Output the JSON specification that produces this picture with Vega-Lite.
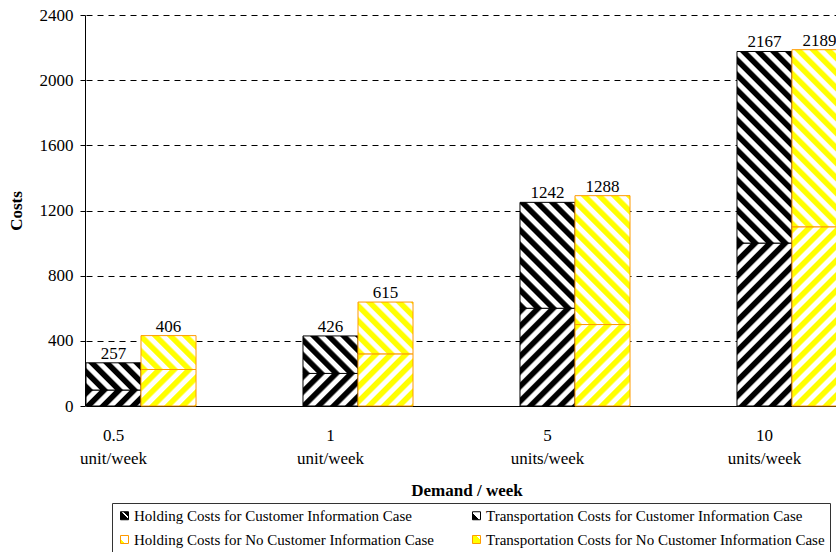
{
"$schema":"https://vega.github.io/schema/vega-lite/v6.json",
"width":751,"height":391,
"autosize":"none",
"padding":{"left":85,"top":15,"right":0,"bottom":146},
"background":"#ffffff",
"config":{
 "font":"Liberation Serif",
 "view":{"stroke":null},
 "axis":{"labelColor":"#000","titleColor":"#000","domainColor":"#000","tickColor":"#000","labelFontSize":17,"titleFontSize":17,"titleFontWeight":"bold","labelFont":"Liberation Serif","titleFont":"Liberation Serif"},
 "legend":{"orient":"none","legendX":27,"legendY":488,"columns":2,"columnPadding":35,"rowPadding":8,"symbolType":"square","symbolSize":64,"symbolStrokeWidth":1,"symbolOpacity":1,"labelFont":"Liberation Serif","labelFontSize":15,"labelColor":"#000","labelOffset":2,"labelLimit":400,"padding":5,"strokeColor":"#333","fillColor":"#fff"}
},
"datasets":{
 "bars":[
  {"demand":"0.5","case":"CI","component":"Holding","start":0,"end":98,"seg":"CI-H-0.5"},
  {"demand":"0.5","case":"CI","component":"Transportation","start":98,"end":265,"seg":"CI-T-0.5"},
  {"demand":"0.5","case":"NCI","component":"Holding","start":0,"end":224,"seg":"NCI-H-0.5"},
  {"demand":"0.5","case":"NCI","component":"Transportation","start":224,"end":432,"seg":"NCI-T-0.5"},
  {"demand":"1","case":"CI","component":"Holding","start":0,"end":200,"seg":"CI-H-1"},
  {"demand":"1","case":"CI","component":"Transportation","start":200,"end":430,"seg":"CI-T-1"},
  {"demand":"1","case":"NCI","component":"Holding","start":0,"end":320,"seg":"NCI-H-1"},
  {"demand":"1","case":"NCI","component":"Transportation","start":320,"end":638,"seg":"NCI-T-1"},
  {"demand":"5","case":"CI","component":"Holding","start":0,"end":600,"seg":"CI-H-5"},
  {"demand":"5","case":"CI","component":"Transportation","start":600,"end":1250,"seg":"CI-T-5"},
  {"demand":"5","case":"NCI","component":"Holding","start":0,"end":500,"seg":"NCI-H-5"},
  {"demand":"5","case":"NCI","component":"Transportation","start":500,"end":1291,"seg":"NCI-T-5"},
  {"demand":"10","case":"CI","component":"Holding","start":0,"end":1000,"seg":"CI-H-10"},
  {"demand":"10","case":"CI","component":"Transportation","start":1000,"end":2176,"seg":"CI-T-10"},
  {"demand":"10","case":"NCI","component":"Holding","start":0,"end":1100,"seg":"NCI-H-10"},
  {"demand":"10","case":"NCI","component":"Transportation","start":1100,"end":2187,"seg":"NCI-T-10"}
 ],
 "totals":[
  {"demand":"0.5","case":"CI","total":265,"label":"257"},
  {"demand":"0.5","case":"NCI","total":432,"label":"406"},
  {"demand":"1","case":"CI","total":430,"label":"426"},
  {"demand":"1","case":"NCI","total":638,"label":"615"},
  {"demand":"5","case":"CI","total":1250,"label":"1242"},
  {"demand":"5","case":"NCI","total":1291,"label":"1288"},
  {"demand":"10","case":"CI","total":2176,"label":"2167"},
  {"demand":"10","case":"NCI","total":2187,"label":"2189"}
 ],
 "legend":[
  {"series":"Holding Costs for Customer Information Case"},
  {"series":"Transportation Costs for Customer Information Case"},
  {"series":"Holding Costs for No Customer Information Case"},
  {"series":"Transportation Costs for No Customer Information Case"}
 ]
},
"layer":[
 {
  "data":{"name":"bars"},
  "mark":{"type":"bar","strokeWidth":1},
  "encoding":{
   "x":{"field":"demand","type":"nominal","sort":null,
    "scale":{"range":[1,762],"paddingInner":0.493,"paddingOuter":0},
    "axis":{"ticks":false,"grid":false,"labelAngle":0,"labelPadding":21,"labelOffset":-27.5,"labelBaseline":"top","labelLineHeight":23,"labelExpr":"[datum.label, (datum.label === '0.5' || datum.label === '1') ? 'unit/week' : 'units/week']","titlePadding":16},
    "title":"Demand / week"},
   "xOffset":{"field":"case","type":"nominal","sort":["CI","NCI"]},
   "y":{"field":"end","type":"quantitative","scale":{"domain":[0,2400],"nice":false},
    "axis":{"values":[0,400,800,1200,1600,2000,2400],"format":"d","grid":true,"gridColor":"#000","gridDash":[6,5],"gridWidth":1,"tickSize":5,"labelPadding":7,"titlePadding":14},
    "title":"Costs"},
   "y2":{"field":"start"},
   "stroke":{"condition":{"test":"datum.case === 'CI'","value":"#000"},"value":"#ff9900"},
   "fill":{"condition":[
    {"test":"datum.seg === 'CI-H-0.5'","value":{"gradient":"linear","x1":0,"y1":0,"x2":2.012,"y2":0.5843,"stops":[{"offset":0,"color":"#000"},{"offset":0.05,"color":"#000"},{"offset":0.0688,"color":"#fff"},{"offset":0.1125,"color":"#fff"},{"offset":0.125,"color":"#000"},{"offset":0.175,"color":"#000"},{"offset":0.1938,"color":"#fff"},{"offset":0.2375,"color":"#fff"},{"offset":0.25,"color":"#000"},{"offset":0.3,"color":"#000"},{"offset":0.3188,"color":"#fff"},{"offset":0.3625,"color":"#fff"},{"offset":0.375,"color":"#000"},{"offset":0.425,"color":"#000"},{"offset":0.4438,"color":"#fff"},{"offset":0.4875,"color":"#fff"},{"offset":0.5,"color":"#000"},{"offset":0.55,"color":"#000"},{"offset":0.5688,"color":"#fff"},{"offset":0.6125,"color":"#fff"},{"offset":0.625,"color":"#000"},{"offset":0.675,"color":"#000"},{"offset":0.6938,"color":"#fff"},{"offset":0.7375,"color":"#fff"},{"offset":0.75,"color":"#000"},{"offset":0.8,"color":"#000"},{"offset":0.8188,"color":"#fff"},{"offset":0.8625,"color":"#fff"},{"offset":0.875,"color":"#000"},{"offset":0.925,"color":"#000"},{"offset":0.9438,"color":"#fff"},{"offset":0.9875,"color":"#fff"}]}},
    {"test":"datum.seg === 'CI-H-1'","value":{"gradient":"linear","x1":0,"y1":0,"x2":1.615,"y2":0.9567,"stops":[{"offset":0,"color":"#000"},{"offset":0.05,"color":"#000"},{"offset":0.0688,"color":"#fff"},{"offset":0.1125,"color":"#fff"},{"offset":0.125,"color":"#000"},{"offset":0.175,"color":"#000"},{"offset":0.1938,"color":"#fff"},{"offset":0.2375,"color":"#fff"},{"offset":0.25,"color":"#000"},{"offset":0.3,"color":"#000"},{"offset":0.3188,"color":"#fff"},{"offset":0.3625,"color":"#fff"},{"offset":0.375,"color":"#000"},{"offset":0.425,"color":"#000"},{"offset":0.4438,"color":"#fff"},{"offset":0.4875,"color":"#fff"},{"offset":0.5,"color":"#000"},{"offset":0.55,"color":"#000"},{"offset":0.5688,"color":"#fff"},{"offset":0.6125,"color":"#fff"},{"offset":0.625,"color":"#000"},{"offset":0.675,"color":"#000"},{"offset":0.6938,"color":"#fff"},{"offset":0.7375,"color":"#fff"},{"offset":0.75,"color":"#000"},{"offset":0.8,"color":"#000"},{"offset":0.8188,"color":"#fff"},{"offset":0.8625,"color":"#fff"},{"offset":0.875,"color":"#000"},{"offset":0.925,"color":"#000"},{"offset":0.9438,"color":"#fff"},{"offset":0.9875,"color":"#fff"}]}},
    {"test":"datum.seg === 'CI-H-5'","value":{"gradient":"linear","x1":0,"y1":0,"x2":0.8525,"y2":1.5151,"stops":[{"offset":0,"color":"#000"},{"offset":0.0308,"color":"#000"},{"offset":0.0423,"color":"#fff"},{"offset":0.0692,"color":"#fff"},{"offset":0.0769,"color":"#000"},{"offset":0.1077,"color":"#000"},{"offset":0.1192,"color":"#fff"},{"offset":0.1462,"color":"#fff"},{"offset":0.1538,"color":"#000"},{"offset":0.1846,"color":"#000"},{"offset":0.1962,"color":"#fff"},{"offset":0.2231,"color":"#fff"},{"offset":0.2308,"color":"#000"},{"offset":0.2615,"color":"#000"},{"offset":0.2731,"color":"#fff"},{"offset":0.3,"color":"#fff"},{"offset":0.3077,"color":"#000"},{"offset":0.3385,"color":"#000"},{"offset":0.35,"color":"#fff"},{"offset":0.3769,"color":"#fff"},{"offset":0.3846,"color":"#000"},{"offset":0.4154,"color":"#000"},{"offset":0.4269,"color":"#fff"},{"offset":0.4538,"color":"#fff"},{"offset":0.4615,"color":"#000"},{"offset":0.4923,"color":"#000"},{"offset":0.5038,"color":"#fff"},{"offset":0.5308,"color":"#fff"},{"offset":0.5385,"color":"#000"},{"offset":0.5692,"color":"#000"},{"offset":0.5808,"color":"#fff"},{"offset":0.6077,"color":"#fff"},{"offset":0.6154,"color":"#000"},{"offset":0.6462,"color":"#000"},{"offset":0.6577,"color":"#fff"},{"offset":0.6846,"color":"#fff"},{"offset":0.6923,"color":"#000"},{"offset":0.7231,"color":"#000"},{"offset":0.7346,"color":"#fff"},{"offset":0.7615,"color":"#fff"},{"offset":0.7692,"color":"#000"},{"offset":0.8,"color":"#000"},{"offset":0.8115,"color":"#fff"},{"offset":0.8385,"color":"#fff"},{"offset":0.8462,"color":"#000"},{"offset":0.8769,"color":"#000"},{"offset":0.8885,"color":"#fff"},{"offset":0.9154,"color":"#fff"},{"offset":0.9231,"color":"#000"},{"offset":0.9538,"color":"#000"},{"offset":0.9654,"color":"#fff"},{"offset":0.9923,"color":"#fff"}]}},
    {"test":"datum.seg === 'CI-H-10'","value":{"gradient":"linear","x1":0,"y1":0,"x2":0.4743,"y2":1.4051,"stops":[{"offset":0,"color":"#000"},{"offset":0.0235,"color":"#000"},{"offset":0.0324,"color":"#fff"},{"offset":0.0529,"color":"#fff"},{"offset":0.0588,"color":"#000"},{"offset":0.0824,"color":"#000"},{"offset":0.0912,"color":"#fff"},{"offset":0.1118,"color":"#fff"},{"offset":0.1176,"color":"#000"},{"offset":0.1412,"color":"#000"},{"offset":0.15,"color":"#fff"},{"offset":0.1706,"color":"#fff"},{"offset":0.1765,"color":"#000"},{"offset":0.2,"color":"#000"},{"offset":0.2088,"color":"#fff"},{"offset":0.2294,"color":"#fff"},{"offset":0.2353,"color":"#000"},{"offset":0.2588,"color":"#000"},{"offset":0.2676,"color":"#fff"},{"offset":0.2882,"color":"#fff"},{"offset":0.2941,"color":"#000"},{"offset":0.3176,"color":"#000"},{"offset":0.3265,"color":"#fff"},{"offset":0.3471,"color":"#fff"},{"offset":0.3529,"color":"#000"},{"offset":0.3765,"color":"#000"},{"offset":0.3853,"color":"#fff"},{"offset":0.4059,"color":"#fff"},{"offset":0.4118,"color":"#000"},{"offset":0.4353,"color":"#000"},{"offset":0.4441,"color":"#fff"},{"offset":0.4647,"color":"#fff"},{"offset":0.4706,"color":"#000"},{"offset":0.4941,"color":"#000"},{"offset":0.5029,"color":"#fff"},{"offset":0.5235,"color":"#fff"},{"offset":0.5294,"color":"#000"},{"offset":0.5529,"color":"#000"},{"offset":0.5618,"color":"#fff"},{"offset":0.5824,"color":"#fff"},{"offset":0.5882,"color":"#000"},{"offset":0.6118,"color":"#000"},{"offset":0.6206,"color":"#fff"},{"offset":0.6412,"color":"#fff"},{"offset":0.6471,"color":"#000"},{"offset":0.6706,"color":"#000"},{"offset":0.6794,"color":"#fff"},{"offset":0.7,"color":"#fff"},{"offset":0.7059,"color":"#000"},{"offset":0.7294,"color":"#000"},{"offset":0.7382,"color":"#fff"},{"offset":0.7588,"color":"#fff"},{"offset":0.7647,"color":"#000"},{"offset":0.7882,"color":"#000"},{"offset":0.7971,"color":"#fff"},{"offset":0.8176,"color":"#fff"},{"offset":0.8235,"color":"#000"},{"offset":0.8471,"color":"#000"},{"offset":0.8559,"color":"#fff"},{"offset":0.8765,"color":"#fff"},{"offset":0.8824,"color":"#000"},{"offset":0.9059,"color":"#000"},{"offset":0.9147,"color":"#fff"},{"offset":0.9353,"color":"#fff"},{"offset":0.9412,"color":"#000"},{"offset":0.9647,"color":"#000"},{"offset":0.9735,"color":"#fff"},{"offset":0.9941,"color":"#fff"}]}},
    {"test":"datum.seg === 'CI-T-0.5'","value":{"gradient":"linear","x1":0,"y1":1,"x2":1.7527,"y2":0.1329,"stops":[{"offset":0,"color":"#000"},{"offset":0.05,"color":"#000"},{"offset":0.0688,"color":"#fff"},{"offset":0.1125,"color":"#fff"},{"offset":0.125,"color":"#000"},{"offset":0.175,"color":"#000"},{"offset":0.1938,"color":"#fff"},{"offset":0.2375,"color":"#fff"},{"offset":0.25,"color":"#000"},{"offset":0.3,"color":"#000"},{"offset":0.3188,"color":"#fff"},{"offset":0.3625,"color":"#fff"},{"offset":0.375,"color":"#000"},{"offset":0.425,"color":"#000"},{"offset":0.4438,"color":"#fff"},{"offset":0.4875,"color":"#fff"},{"offset":0.5,"color":"#000"},{"offset":0.55,"color":"#000"},{"offset":0.5688,"color":"#fff"},{"offset":0.6125,"color":"#fff"},{"offset":0.625,"color":"#000"},{"offset":0.675,"color":"#000"},{"offset":0.6938,"color":"#fff"},{"offset":0.7375,"color":"#fff"},{"offset":0.75,"color":"#000"},{"offset":0.8,"color":"#000"},{"offset":0.8188,"color":"#fff"},{"offset":0.8625,"color":"#fff"},{"offset":0.875,"color":"#000"},{"offset":0.925,"color":"#000"},{"offset":0.9438,"color":"#fff"},{"offset":0.9875,"color":"#fff"}]}},
    {"test":"datum.seg === 'CI-T-1'","value":{"gradient":"linear","x1":0,"y1":1,"x2":1.4903,"y2":-0.0153,"stops":[{"offset":0,"color":"#000"},{"offset":0.05,"color":"#000"},{"offset":0.0688,"color":"#fff"},{"offset":0.1125,"color":"#fff"},{"offset":0.125,"color":"#000"},{"offset":0.175,"color":"#000"},{"offset":0.1938,"color":"#fff"},{"offset":0.2375,"color":"#fff"},{"offset":0.25,"color":"#000"},{"offset":0.3,"color":"#000"},{"offset":0.3188,"color":"#fff"},{"offset":0.3625,"color":"#fff"},{"offset":0.375,"color":"#000"},{"offset":0.425,"color":"#000"},{"offset":0.4438,"color":"#fff"},{"offset":0.4875,"color":"#fff"},{"offset":0.5,"color":"#000"},{"offset":0.55,"color":"#000"},{"offset":0.5688,"color":"#fff"},{"offset":0.6125,"color":"#fff"},{"offset":0.625,"color":"#000"},{"offset":0.675,"color":"#000"},{"offset":0.6938,"color":"#fff"},{"offset":0.7375,"color":"#fff"},{"offset":0.75,"color":"#000"},{"offset":0.8,"color":"#000"},{"offset":0.8188,"color":"#fff"},{"offset":0.8625,"color":"#fff"},{"offset":0.875,"color":"#000"},{"offset":0.925,"color":"#000"},{"offset":0.9438,"color":"#fff"},{"offset":0.9875,"color":"#fff"}]}},
    {"test":"datum.seg === 'CI-T-5'","value":{"gradient":"linear","x1":0,"y1":1,"x2":0.7532,"y2":-0.4502,"stops":[{"offset":0,"color":"#000"},{"offset":0.0308,"color":"#000"},{"offset":0.0423,"color":"#fff"},{"offset":0.0692,"color":"#fff"},{"offset":0.0769,"color":"#000"},{"offset":0.1077,"color":"#000"},{"offset":0.1192,"color":"#fff"},{"offset":0.1462,"color":"#fff"},{"offset":0.1538,"color":"#000"},{"offset":0.1846,"color":"#000"},{"offset":0.1962,"color":"#fff"},{"offset":0.2231,"color":"#fff"},{"offset":0.2308,"color":"#000"},{"offset":0.2615,"color":"#000"},{"offset":0.2731,"color":"#fff"},{"offset":0.3,"color":"#fff"},{"offset":0.3077,"color":"#000"},{"offset":0.3385,"color":"#000"},{"offset":0.35,"color":"#fff"},{"offset":0.3769,"color":"#fff"},{"offset":0.3846,"color":"#000"},{"offset":0.4154,"color":"#000"},{"offset":0.4269,"color":"#fff"},{"offset":0.4538,"color":"#fff"},{"offset":0.4615,"color":"#000"},{"offset":0.4923,"color":"#000"},{"offset":0.5038,"color":"#fff"},{"offset":0.5308,"color":"#fff"},{"offset":0.5385,"color":"#000"},{"offset":0.5692,"color":"#000"},{"offset":0.5808,"color":"#fff"},{"offset":0.6077,"color":"#fff"},{"offset":0.6154,"color":"#000"},{"offset":0.6462,"color":"#000"},{"offset":0.6577,"color":"#fff"},{"offset":0.6846,"color":"#fff"},{"offset":0.6923,"color":"#000"},{"offset":0.7231,"color":"#000"},{"offset":0.7346,"color":"#fff"},{"offset":0.7615,"color":"#fff"},{"offset":0.7692,"color":"#000"},{"offset":0.8,"color":"#000"},{"offset":0.8115,"color":"#fff"},{"offset":0.8385,"color":"#fff"},{"offset":0.8462,"color":"#000"},{"offset":0.8769,"color":"#000"},{"offset":0.8885,"color":"#fff"},{"offset":0.9154,"color":"#fff"},{"offset":0.9231,"color":"#000"},{"offset":0.9538,"color":"#000"},{"offset":0.9654,"color":"#fff"},{"offset":0.9923,"color":"#fff"}]}},
    {"test":"datum.seg === 'CI-T-10'","value":{"gradient":"linear","x1":0,"y1":1,"x2":0.353,"y2":-0.2296,"stops":[{"offset":0,"color":"#000"},{"offset":0.0235,"color":"#000"},{"offset":0.0324,"color":"#fff"},{"offset":0.0529,"color":"#fff"},{"offset":0.0588,"color":"#000"},{"offset":0.0824,"color":"#000"},{"offset":0.0912,"color":"#fff"},{"offset":0.1118,"color":"#fff"},{"offset":0.1176,"color":"#000"},{"offset":0.1412,"color":"#000"},{"offset":0.15,"color":"#fff"},{"offset":0.1706,"color":"#fff"},{"offset":0.1765,"color":"#000"},{"offset":0.2,"color":"#000"},{"offset":0.2088,"color":"#fff"},{"offset":0.2294,"color":"#fff"},{"offset":0.2353,"color":"#000"},{"offset":0.2588,"color":"#000"},{"offset":0.2676,"color":"#fff"},{"offset":0.2882,"color":"#fff"},{"offset":0.2941,"color":"#000"},{"offset":0.3176,"color":"#000"},{"offset":0.3265,"color":"#fff"},{"offset":0.3471,"color":"#fff"},{"offset":0.3529,"color":"#000"},{"offset":0.3765,"color":"#000"},{"offset":0.3853,"color":"#fff"},{"offset":0.4059,"color":"#fff"},{"offset":0.4118,"color":"#000"},{"offset":0.4353,"color":"#000"},{"offset":0.4441,"color":"#fff"},{"offset":0.4647,"color":"#fff"},{"offset":0.4706,"color":"#000"},{"offset":0.4941,"color":"#000"},{"offset":0.5029,"color":"#fff"},{"offset":0.5235,"color":"#fff"},{"offset":0.5294,"color":"#000"},{"offset":0.5529,"color":"#000"},{"offset":0.5618,"color":"#fff"},{"offset":0.5824,"color":"#fff"},{"offset":0.5882,"color":"#000"},{"offset":0.6118,"color":"#000"},{"offset":0.6206,"color":"#fff"},{"offset":0.6412,"color":"#fff"},{"offset":0.6471,"color":"#000"},{"offset":0.6706,"color":"#000"},{"offset":0.6794,"color":"#fff"},{"offset":0.7,"color":"#fff"},{"offset":0.7059,"color":"#000"},{"offset":0.7294,"color":"#000"},{"offset":0.7382,"color":"#fff"},{"offset":0.7588,"color":"#fff"},{"offset":0.7647,"color":"#000"},{"offset":0.7882,"color":"#000"},{"offset":0.7971,"color":"#fff"},{"offset":0.8176,"color":"#fff"},{"offset":0.8235,"color":"#000"},{"offset":0.8471,"color":"#000"},{"offset":0.8559,"color":"#fff"},{"offset":0.8765,"color":"#fff"},{"offset":0.8824,"color":"#000"},{"offset":0.9059,"color":"#000"},{"offset":0.9147,"color":"#fff"},{"offset":0.9353,"color":"#fff"},{"offset":0.9412,"color":"#000"},{"offset":0.9647,"color":"#000"},{"offset":0.9735,"color":"#fff"},{"offset":0.9941,"color":"#fff"}]}},
    {"test":"datum.seg === 'NCI-H-0.5'","value":{"gradient":"linear","x1":0,"y1":0,"x2":1.5149,"y2":1.0051,"stops":[{"offset":0,"color":"#ff0"},{"offset":0.05,"color":"#ff0"},{"offset":0.0688,"color":"#fff"},{"offset":0.1125,"color":"#fff"},{"offset":0.125,"color":"#ff0"},{"offset":0.175,"color":"#ff0"},{"offset":0.1938,"color":"#fff"},{"offset":0.2375,"color":"#fff"},{"offset":0.25,"color":"#ff0"},{"offset":0.3,"color":"#ff0"},{"offset":0.3188,"color":"#fff"},{"offset":0.3625,"color":"#fff"},{"offset":0.375,"color":"#ff0"},{"offset":0.425,"color":"#ff0"},{"offset":0.4438,"color":"#fff"},{"offset":0.4875,"color":"#fff"},{"offset":0.5,"color":"#ff0"},{"offset":0.55,"color":"#ff0"},{"offset":0.5688,"color":"#fff"},{"offset":0.6125,"color":"#fff"},{"offset":0.625,"color":"#ff0"},{"offset":0.675,"color":"#ff0"},{"offset":0.6938,"color":"#fff"},{"offset":0.7375,"color":"#fff"},{"offset":0.75,"color":"#ff0"},{"offset":0.8,"color":"#ff0"},{"offset":0.8188,"color":"#fff"},{"offset":0.8625,"color":"#fff"},{"offset":0.875,"color":"#ff0"},{"offset":0.925,"color":"#ff0"},{"offset":0.9438,"color":"#fff"},{"offset":0.9875,"color":"#fff"}]}},
    {"test":"datum.seg === 'NCI-H-1'","value":{"gradient":"linear","x1":0,"y1":0,"x2":1.1492,"y2":1.0893,"stops":[{"offset":0,"color":"#ff0"},{"offset":0.05,"color":"#ff0"},{"offset":0.0688,"color":"#fff"},{"offset":0.1125,"color":"#fff"},{"offset":0.125,"color":"#ff0"},{"offset":0.175,"color":"#ff0"},{"offset":0.1938,"color":"#fff"},{"offset":0.2375,"color":"#fff"},{"offset":0.25,"color":"#ff0"},{"offset":0.3,"color":"#ff0"},{"offset":0.3188,"color":"#fff"},{"offset":0.3625,"color":"#fff"},{"offset":0.375,"color":"#ff0"},{"offset":0.425,"color":"#ff0"},{"offset":0.4438,"color":"#fff"},{"offset":0.4875,"color":"#fff"},{"offset":0.5,"color":"#ff0"},{"offset":0.55,"color":"#ff0"},{"offset":0.5688,"color":"#fff"},{"offset":0.6125,"color":"#fff"},{"offset":0.625,"color":"#ff0"},{"offset":0.675,"color":"#ff0"},{"offset":0.6938,"color":"#fff"},{"offset":0.7375,"color":"#fff"},{"offset":0.75,"color":"#ff0"},{"offset":0.8,"color":"#ff0"},{"offset":0.8188,"color":"#fff"},{"offset":0.8625,"color":"#fff"},{"offset":0.875,"color":"#ff0"},{"offset":0.925,"color":"#ff0"},{"offset":0.9438,"color":"#fff"},{"offset":0.9875,"color":"#fff"}]}},
    {"test":"datum.seg === 'NCI-H-5'","value":{"gradient":"linear","x1":0,"y1":0,"x2":1.1101,"y2":1.6442,"stops":[{"offset":0,"color":"#ff0"},{"offset":0.0308,"color":"#ff0"},{"offset":0.0423,"color":"#fff"},{"offset":0.0692,"color":"#fff"},{"offset":0.0769,"color":"#ff0"},{"offset":0.1077,"color":"#ff0"},{"offset":0.1192,"color":"#fff"},{"offset":0.1462,"color":"#fff"},{"offset":0.1538,"color":"#ff0"},{"offset":0.1846,"color":"#ff0"},{"offset":0.1962,"color":"#fff"},{"offset":0.2231,"color":"#fff"},{"offset":0.2308,"color":"#ff0"},{"offset":0.2615,"color":"#ff0"},{"offset":0.2731,"color":"#fff"},{"offset":0.3,"color":"#fff"},{"offset":0.3077,"color":"#ff0"},{"offset":0.3385,"color":"#ff0"},{"offset":0.35,"color":"#fff"},{"offset":0.3769,"color":"#fff"},{"offset":0.3846,"color":"#ff0"},{"offset":0.4154,"color":"#ff0"},{"offset":0.4269,"color":"#fff"},{"offset":0.4538,"color":"#fff"},{"offset":0.4615,"color":"#ff0"},{"offset":0.4923,"color":"#ff0"},{"offset":0.5038,"color":"#fff"},{"offset":0.5308,"color":"#fff"},{"offset":0.5385,"color":"#ff0"},{"offset":0.5692,"color":"#ff0"},{"offset":0.5808,"color":"#fff"},{"offset":0.6077,"color":"#fff"},{"offset":0.6154,"color":"#ff0"},{"offset":0.6462,"color":"#ff0"},{"offset":0.6577,"color":"#fff"},{"offset":0.6846,"color":"#fff"},{"offset":0.6923,"color":"#ff0"},{"offset":0.7231,"color":"#ff0"},{"offset":0.7346,"color":"#fff"},{"offset":0.7615,"color":"#fff"},{"offset":0.7692,"color":"#ff0"},{"offset":0.8,"color":"#ff0"},{"offset":0.8115,"color":"#fff"},{"offset":0.8385,"color":"#fff"},{"offset":0.8462,"color":"#ff0"},{"offset":0.8769,"color":"#ff0"},{"offset":0.8885,"color":"#fff"},{"offset":0.9154,"color":"#fff"},{"offset":0.9231,"color":"#ff0"},{"offset":0.9538,"color":"#ff0"},{"offset":0.9654,"color":"#fff"},{"offset":0.9923,"color":"#fff"}]}},
    {"test":"datum.seg === 'NCI-H-10'","value":{"gradient":"linear","x1":0,"y1":0,"x2":0.3991,"y2":1.3004,"stops":[{"offset":0,"color":"#ff0"},{"offset":0.0235,"color":"#ff0"},{"offset":0.0324,"color":"#fff"},{"offset":0.0529,"color":"#fff"},{"offset":0.0588,"color":"#ff0"},{"offset":0.0824,"color":"#ff0"},{"offset":0.0912,"color":"#fff"},{"offset":0.1118,"color":"#fff"},{"offset":0.1176,"color":"#ff0"},{"offset":0.1412,"color":"#ff0"},{"offset":0.15,"color":"#fff"},{"offset":0.1706,"color":"#fff"},{"offset":0.1765,"color":"#ff0"},{"offset":0.2,"color":"#ff0"},{"offset":0.2088,"color":"#fff"},{"offset":0.2294,"color":"#fff"},{"offset":0.2353,"color":"#ff0"},{"offset":0.2588,"color":"#ff0"},{"offset":0.2676,"color":"#fff"},{"offset":0.2882,"color":"#fff"},{"offset":0.2941,"color":"#ff0"},{"offset":0.3176,"color":"#ff0"},{"offset":0.3265,"color":"#fff"},{"offset":0.3471,"color":"#fff"},{"offset":0.3529,"color":"#ff0"},{"offset":0.3765,"color":"#ff0"},{"offset":0.3853,"color":"#fff"},{"offset":0.4059,"color":"#fff"},{"offset":0.4118,"color":"#ff0"},{"offset":0.4353,"color":"#ff0"},{"offset":0.4441,"color":"#fff"},{"offset":0.4647,"color":"#fff"},{"offset":0.4706,"color":"#ff0"},{"offset":0.4941,"color":"#ff0"},{"offset":0.5029,"color":"#fff"},{"offset":0.5235,"color":"#fff"},{"offset":0.5294,"color":"#ff0"},{"offset":0.5529,"color":"#ff0"},{"offset":0.5618,"color":"#fff"},{"offset":0.5824,"color":"#fff"},{"offset":0.5882,"color":"#ff0"},{"offset":0.6118,"color":"#ff0"},{"offset":0.6206,"color":"#fff"},{"offset":0.6412,"color":"#fff"},{"offset":0.6471,"color":"#ff0"},{"offset":0.6706,"color":"#ff0"},{"offset":0.6794,"color":"#fff"},{"offset":0.7,"color":"#fff"},{"offset":0.7059,"color":"#ff0"},{"offset":0.7294,"color":"#ff0"},{"offset":0.7382,"color":"#fff"},{"offset":0.7588,"color":"#fff"},{"offset":0.7647,"color":"#ff0"},{"offset":0.7882,"color":"#ff0"},{"offset":0.7971,"color":"#fff"},{"offset":0.8176,"color":"#fff"},{"offset":0.8235,"color":"#ff0"},{"offset":0.8471,"color":"#ff0"},{"offset":0.8559,"color":"#fff"},{"offset":0.8765,"color":"#fff"},{"offset":0.8824,"color":"#ff0"},{"offset":0.9059,"color":"#ff0"},{"offset":0.9147,"color":"#fff"},{"offset":0.9353,"color":"#fff"},{"offset":0.9412,"color":"#ff0"},{"offset":0.9647,"color":"#ff0"},{"offset":0.9735,"color":"#fff"},{"offset":0.9941,"color":"#fff"}]}},
    {"test":"datum.seg === 'NCI-T-0.5'","value":{"gradient":"linear","x1":0,"y1":1,"x2":1.5813,"y2":0.0256,"stops":[{"offset":0,"color":"#ff0"},{"offset":0.05,"color":"#ff0"},{"offset":0.0688,"color":"#fff"},{"offset":0.1125,"color":"#fff"},{"offset":0.125,"color":"#ff0"},{"offset":0.175,"color":"#ff0"},{"offset":0.1938,"color":"#fff"},{"offset":0.2375,"color":"#fff"},{"offset":0.25,"color":"#ff0"},{"offset":0.3,"color":"#ff0"},{"offset":0.3188,"color":"#fff"},{"offset":0.3625,"color":"#fff"},{"offset":0.375,"color":"#ff0"},{"offset":0.425,"color":"#ff0"},{"offset":0.4438,"color":"#fff"},{"offset":0.4875,"color":"#fff"},{"offset":0.5,"color":"#ff0"},{"offset":0.55,"color":"#ff0"},{"offset":0.5688,"color":"#fff"},{"offset":0.6125,"color":"#fff"},{"offset":0.625,"color":"#ff0"},{"offset":0.675,"color":"#ff0"},{"offset":0.6938,"color":"#fff"},{"offset":0.7375,"color":"#fff"},{"offset":0.75,"color":"#ff0"},{"offset":0.8,"color":"#ff0"},{"offset":0.8188,"color":"#fff"},{"offset":0.8625,"color":"#fff"},{"offset":0.875,"color":"#ff0"},{"offset":0.925,"color":"#ff0"},{"offset":0.9438,"color":"#fff"},{"offset":0.9875,"color":"#fff"}]}},
    {"test":"datum.seg === 'NCI-T-1'","value":{"gradient":"linear","x1":0,"y1":1,"x2":1.156,"y2":-0.0889,"stops":[{"offset":0,"color":"#ff0"},{"offset":0.05,"color":"#ff0"},{"offset":0.0688,"color":"#fff"},{"offset":0.1125,"color":"#fff"},{"offset":0.125,"color":"#ff0"},{"offset":0.175,"color":"#ff0"},{"offset":0.1938,"color":"#fff"},{"offset":0.2375,"color":"#fff"},{"offset":0.25,"color":"#ff0"},{"offset":0.3,"color":"#ff0"},{"offset":0.3188,"color":"#fff"},{"offset":0.3625,"color":"#fff"},{"offset":0.375,"color":"#ff0"},{"offset":0.425,"color":"#ff0"},{"offset":0.4438,"color":"#fff"},{"offset":0.4875,"color":"#fff"},{"offset":0.5,"color":"#ff0"},{"offset":0.55,"color":"#ff0"},{"offset":0.5688,"color":"#fff"},{"offset":0.6125,"color":"#fff"},{"offset":0.625,"color":"#ff0"},{"offset":0.675,"color":"#ff0"},{"offset":0.6938,"color":"#fff"},{"offset":0.7375,"color":"#fff"},{"offset":0.75,"color":"#ff0"},{"offset":0.8,"color":"#ff0"},{"offset":0.8188,"color":"#fff"},{"offset":0.8625,"color":"#fff"},{"offset":0.875,"color":"#ff0"},{"offset":0.925,"color":"#ff0"},{"offset":0.9438,"color":"#fff"},{"offset":0.9875,"color":"#fff"}]}},
    {"test":"datum.seg === 'NCI-T-5'","value":{"gradient":"linear","x1":0,"y1":1,"x2":0.5463,"y2":-0.28,"stops":[{"offset":0,"color":"#ff0"},{"offset":0.0308,"color":"#ff0"},{"offset":0.0423,"color":"#fff"},{"offset":0.0692,"color":"#fff"},{"offset":0.0769,"color":"#ff0"},{"offset":0.1077,"color":"#ff0"},{"offset":0.1192,"color":"#fff"},{"offset":0.1462,"color":"#fff"},{"offset":0.1538,"color":"#ff0"},{"offset":0.1846,"color":"#ff0"},{"offset":0.1962,"color":"#fff"},{"offset":0.2231,"color":"#fff"},{"offset":0.2308,"color":"#ff0"},{"offset":0.2615,"color":"#ff0"},{"offset":0.2731,"color":"#fff"},{"offset":0.3,"color":"#fff"},{"offset":0.3077,"color":"#ff0"},{"offset":0.3385,"color":"#ff0"},{"offset":0.35,"color":"#fff"},{"offset":0.3769,"color":"#fff"},{"offset":0.3846,"color":"#ff0"},{"offset":0.4154,"color":"#ff0"},{"offset":0.4269,"color":"#fff"},{"offset":0.4538,"color":"#fff"},{"offset":0.4615,"color":"#ff0"},{"offset":0.4923,"color":"#ff0"},{"offset":0.5038,"color":"#fff"},{"offset":0.5308,"color":"#fff"},{"offset":0.5385,"color":"#ff0"},{"offset":0.5692,"color":"#ff0"},{"offset":0.5808,"color":"#fff"},{"offset":0.6077,"color":"#fff"},{"offset":0.6154,"color":"#ff0"},{"offset":0.6462,"color":"#ff0"},{"offset":0.6577,"color":"#fff"},{"offset":0.6846,"color":"#fff"},{"offset":0.6923,"color":"#ff0"},{"offset":0.7231,"color":"#ff0"},{"offset":0.7346,"color":"#fff"},{"offset":0.7615,"color":"#fff"},{"offset":0.7692,"color":"#ff0"},{"offset":0.8,"color":"#ff0"},{"offset":0.8115,"color":"#fff"},{"offset":0.8385,"color":"#fff"},{"offset":0.8462,"color":"#ff0"},{"offset":0.8769,"color":"#ff0"},{"offset":0.8885,"color":"#fff"},{"offset":0.9154,"color":"#fff"},{"offset":0.9231,"color":"#ff0"},{"offset":0.9538,"color":"#ff0"},{"offset":0.9654,"color":"#fff"},{"offset":0.9923,"color":"#fff"}]}},
    {"test":"datum.seg === 'NCI-T-10'","value":{"gradient":"linear","x1":0,"y1":1,"x2":0.4079,"y2":-0.3133,"stops":[{"offset":0,"color":"#ff0"},{"offset":0.0235,"color":"#ff0"},{"offset":0.0324,"color":"#fff"},{"offset":0.0529,"color":"#fff"},{"offset":0.0588,"color":"#ff0"},{"offset":0.0824,"color":"#ff0"},{"offset":0.0912,"color":"#fff"},{"offset":0.1118,"color":"#fff"},{"offset":0.1176,"color":"#ff0"},{"offset":0.1412,"color":"#ff0"},{"offset":0.15,"color":"#fff"},{"offset":0.1706,"color":"#fff"},{"offset":0.1765,"color":"#ff0"},{"offset":0.2,"color":"#ff0"},{"offset":0.2088,"color":"#fff"},{"offset":0.2294,"color":"#fff"},{"offset":0.2353,"color":"#ff0"},{"offset":0.2588,"color":"#ff0"},{"offset":0.2676,"color":"#fff"},{"offset":0.2882,"color":"#fff"},{"offset":0.2941,"color":"#ff0"},{"offset":0.3176,"color":"#ff0"},{"offset":0.3265,"color":"#fff"},{"offset":0.3471,"color":"#fff"},{"offset":0.3529,"color":"#ff0"},{"offset":0.3765,"color":"#ff0"},{"offset":0.3853,"color":"#fff"},{"offset":0.4059,"color":"#fff"},{"offset":0.4118,"color":"#ff0"},{"offset":0.4353,"color":"#ff0"},{"offset":0.4441,"color":"#fff"},{"offset":0.4647,"color":"#fff"},{"offset":0.4706,"color":"#ff0"},{"offset":0.4941,"color":"#ff0"},{"offset":0.5029,"color":"#fff"},{"offset":0.5235,"color":"#fff"},{"offset":0.5294,"color":"#ff0"},{"offset":0.5529,"color":"#ff0"},{"offset":0.5618,"color":"#fff"},{"offset":0.5824,"color":"#fff"},{"offset":0.5882,"color":"#ff0"},{"offset":0.6118,"color":"#ff0"},{"offset":0.6206,"color":"#fff"},{"offset":0.6412,"color":"#fff"},{"offset":0.6471,"color":"#ff0"},{"offset":0.6706,"color":"#ff0"},{"offset":0.6794,"color":"#fff"},{"offset":0.7,"color":"#fff"},{"offset":0.7059,"color":"#ff0"},{"offset":0.7294,"color":"#ff0"},{"offset":0.7382,"color":"#fff"},{"offset":0.7588,"color":"#fff"},{"offset":0.7647,"color":"#ff0"},{"offset":0.7882,"color":"#ff0"},{"offset":0.7971,"color":"#fff"},{"offset":0.8176,"color":"#fff"},{"offset":0.8235,"color":"#ff0"},{"offset":0.8471,"color":"#ff0"},{"offset":0.8559,"color":"#fff"},{"offset":0.8765,"color":"#fff"},{"offset":0.8824,"color":"#ff0"},{"offset":0.9059,"color":"#ff0"},{"offset":0.9147,"color":"#fff"},{"offset":0.9353,"color":"#fff"},{"offset":0.9412,"color":"#ff0"},{"offset":0.9647,"color":"#ff0"},{"offset":0.9735,"color":"#fff"},{"offset":0.9941,"color":"#fff"}]}}
   ],"value":"#fff"}
  }
 },
 {
  "data":{"name":"totals"},
  "mark":{"type":"text","baseline":"alphabetic","dy":-4,"fontSize":17,"color":"#000"},
  "encoding":{
   "x":{"field":"demand","type":"nominal","sort":null,"title":"Demand / week"},
   "xOffset":{"field":"case","type":"nominal","sort":["CI","NCI"]},
   "y":{"field":"total","type":"quantitative","title":"Costs"},
   "text":{"field":"label","type":"nominal"}
  }
 },
 {
  "data":{"name":"legend"},
  "mark":{"type":"text","text":""},
  "encoding":{
   "fill":{"field":"series","type":"nominal","legend":{"title":null},
    "scale":{"domain":["Holding Costs for Customer Information Case","Holding Costs for No Customer Information Case","Transportation Costs for Customer Information Case","Transportation Costs for No Customer Information Case"],
     "range":[
      {"expr":"{gradient:'linear',x1:0,y1:1,x2:1,y2:0,stops:[{offset:0,color:'#000'},{offset:0.55,color:'#000'},{offset:0.55,color:'#fff'},{offset:0.7,color:'#fff'},{offset:0.7,color:'#000'},{offset:1,color:'#000'}]}"},
      {"expr":"{gradient:'linear',x1:0,y1:1,x2:1,y2:0,stops:[{offset:0,color:'#ff0'},{offset:0.3,color:'#ff0'},{offset:0.3,color:'#fff'},{offset:1,color:'#fff'}]}"},
      {"expr":"{gradient:'linear',x1:0,y1:1,x2:1,y2:0,stops:[{offset:0,color:'#000'},{offset:0.4,color:'#000'},{offset:0.4,color:'#fff'},{offset:1,color:'#fff'}]}"},
      {"expr":"{gradient:'linear',x1:0,y1:1,x2:1,y2:0,stops:[{offset:0,color:'#ff0'},{offset:0.75,color:'#ff0'},{offset:0.75,color:'#fff'},{offset:1,color:'#fff'}]}"}
     ]}},
   "stroke":{"field":"series","type":"nominal","legend":{"title":null},
    "scale":{"domain":["Holding Costs for Customer Information Case","Holding Costs for No Customer Information Case","Transportation Costs for Customer Information Case","Transportation Costs for No Customer Information Case"],
     "range":["#000","#ff9900","#000","#ff9900"]}}
  }
 }
]
}
